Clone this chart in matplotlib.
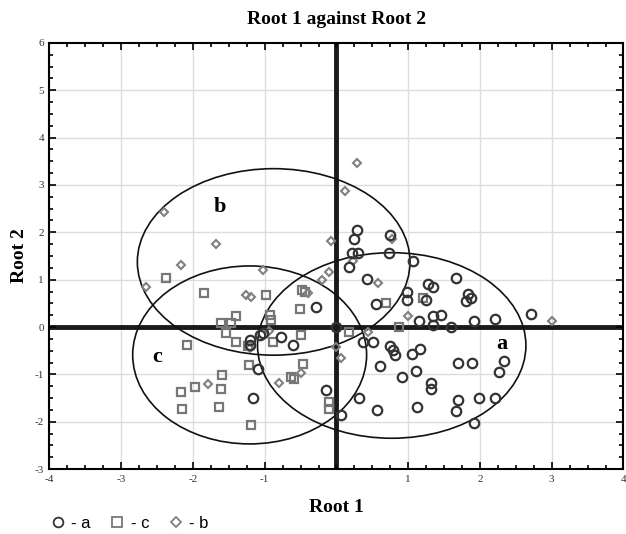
import matplotlib
matplotlib.use("Agg")
import matplotlib.pyplot as plt
import numpy as np
from matplotlib.patches import Ellipse
from matplotlib.lines import Line2D

plt.rcParams["axes.unicode_minus"] = False

# group a (circles)
a_x = [0.29, 0.24, 0.75, 0.21, 0.30, 0.73, 0.17, 1.06, 0.43, 1.66, 1.27, 1.35, 0.98, 0.98,
       0.55, 1.25, 1.83, 1.87, 1.80, 1.35, 1.46, 1.15, 1.92, 2.21, 2.71, 1.35, 1.60,
       0.37, 0.51, 0.75, 0.79, 0.82, 1.05, 1.17, 0.60, 1.11, 0.92, 1.69, 1.89, 2.34, 2.26,
       1.32, 1.32, -0.15, 0.32, 0.57, 1.12, 1.70, 1.67, 1.99, 2.21, 1.92, 0.07,
       -0.29, 0.0, -1.20, -1.06, -1.03, -0.77, -0.61, -1.21, -1.09, -1.16]
a_y = [2.04, 1.85, 1.95, 1.57, 1.57, 1.57, 1.26, 1.39, 1.02, 1.04, 0.90, 0.84, 0.74, 0.56,
       0.48, 0.58, 0.70, 0.62, 0.55, 0.24, 0.25, 0.13, 0.12, 0.17, 0.27, 0.05, 0.01,
       -0.32, -0.32, -0.40, -0.49, -0.59, -0.58, -0.47, -0.82, -0.92, -1.06, -0.77, -0.75, -0.72, -0.96,
       -1.19, -1.30, -1.33, -1.51, -1.75, -1.70, -1.54, -1.77, -1.49, -1.49, -2.02, -1.86,
       0.42, 0.0, -0.27, -0.17, -0.13, -0.22, -0.37, -0.38, -0.88, -1.50]

# group c (squares)
c_x = [-2.38, -1.85, -0.98, -0.48, -0.44, -0.51, -1.40, -1.61, -1.47, -0.93, -0.91, -1.54,
       -1.40, -2.09, -0.88, -0.50, -1.22, -1.59, -1.97, -2.17, -1.61, -2.15, -1.64, -1.19,
       -0.47, -0.63, -0.59, -0.10, -0.10, 0.17, 0.69, 0.87, 1.20, -1.23]
c_y = [1.04, 0.72, 0.68, 0.78, 0.75, 0.38, 0.23, 0.08, 0.08, 0.26, 0.15, -0.12,
       -0.31, -0.38, -0.31, -0.17, -0.81, -1.01, -1.26, -1.37, -1.32, -1.73, -1.69, -2.07,
       -0.79, -1.06, -1.09, -1.58, -1.74, -0.11, 0.51, 0.01, 0.61, -0.40]

# group b (diamonds)
b_x = [0.29, 0.12, -2.40, -1.68, -0.08, 0.78, 0.23, -2.17, -1.02, -0.11, -0.20, 0.58,
       -2.66, -1.26, -1.19, -0.39, 1.00, 3.00, -0.94, 0.44, 0.07, -1.21, -1.79, -0.80,
       -0.49, 0.0]
b_y = [3.46, 2.88, 2.42, 1.75, 1.82, 1.85, 1.40, 1.32, 1.20, 1.16, 1.00, 0.93,
       0.85, 0.68, 0.63, 0.71, 0.24, 0.13, -0.09, -0.11, -0.65, -0.44, -1.20, -1.18,
       -0.98, -0.43]

# ellipses: name, center x, center y, width, height, label x, label y
ell_names = ["a", "b", "c"]
ell_cx = [0.77, -0.875, -1.21]
ell_cy = [-0.39, 1.375, -0.59]
ell_w = [3.74, 3.80, 3.26]
ell_h = [3.92, 3.94, 3.76]
lab_x = [2.30, -1.62, -2.50]
lab_y = [-0.35, 2.54, -0.63]

serif = ["Liberation Serif", "DejaVu Serif"]

fig = plt.figure(figsize=(6.26, 5.34), dpi=100)
ax = fig.add_axes([0.079, 0.1217, 0.917, 0.7978])

ax.set_xlim(-4, 4)
ax.set_ylim(-3, 6)
ax.set_xticks([-4, -3, -2, -1, 1, 2, 3, 4])
ax.set_yticks(range(-3, 7))
ax.set_xticks(np.arange(-4, 4.01, 0.25), minor=True)
ax.set_yticks(np.arange(-3, 6.01, 0.25), minor=True)
ax.tick_params(which="both", direction="in", top=True, right=True, width=1.2)
ax.tick_params(which="major", length=5, labelsize=8, labelcolor="#333333", pad=4)
ax.tick_params(which="minor", length=3)
for lbl in ax.get_xticklabels() + ax.get_yticklabels():
    lbl.set_family(serif)
for sp in ax.spines.values():
    sp.set_linewidth(1.5)

for v in range(-3, 5):
    ax.axvline(v, color="#dddddd", lw=1, zorder=0)
for v in range(-2, 6):
    ax.axhline(v, color="#dddddd", lw=1, zorder=0)

ax.axhline(0, color="#1a1a1a", lw=3.5, zorder=1)
ax.axvline(0, color="#1a1a1a", lw=3.5, zorder=1)

for i in range(3):
    ax.add_patch(Ellipse((ell_cx[i], ell_cy[i]), ell_w[i], ell_h[i], fill=False,
                         edgecolor="#111111", lw=1.2, zorder=2))
    ax.text(lab_x[i], lab_y[i], ell_names[i], fontsize=16, fontweight="bold",
            family=serif, ha="center", va="center", zorder=3)

ax.plot(c_x, c_y, "s", ms=6.2, mfc="none", mec="#777777", mew=1.6, zorder=4)
ax.plot(b_x, b_y, "D", ms=4.3, mfc="none", mec="#808080", mew=1.5, zorder=4)
ax.plot(a_x, a_y, "o", ms=6.8, mfc="none", mec="#333333", mew=1.6, zorder=5)

ax.set_title("Root 1 against Root 2", fontsize=14, fontweight="bold", family=serif, pad=14)
ax.set_xlabel("Root 1", fontsize=14, fontweight="bold", family=serif, labelpad=11)
ax.set_ylabel("Root 2", fontsize=14, fontweight="bold", family=serif, labelpad=5)

handles = [Line2D([], [], ls="none", marker="o", ms=7, mfc="none", mec="#333333", mew=1.3),
           Line2D([], [], ls="none", marker="s", ms=7, mfc="none", mec="#777777", mew=1.3),
           Line2D([], [], ls="none", marker="D", ms=5, mfc="none", mec="#808080", mew=1.3)]
fig.legend(handles, ["- a", "- c", "- b"], loc="lower left", bbox_to_anchor=(0.058, -0.022),
           ncol=3, frameon=False, handlelength=0.8, handletextpad=0.4, columnspacing=1.2,
           prop={"family": ["Liberation Sans", "DejaVu Sans"], "size": 12})

fig.savefig("out.png", dpi=100)
